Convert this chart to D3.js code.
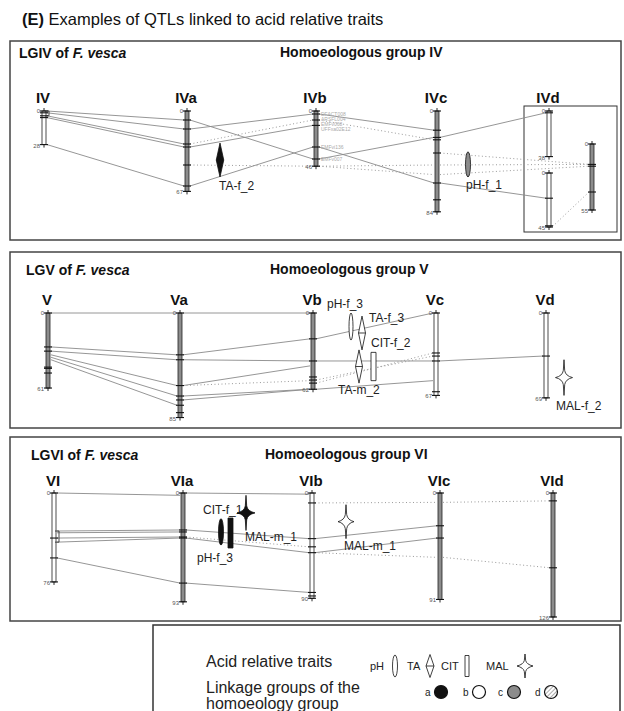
<!DOCTYPE html>
<html>
<head>
<meta charset="utf-8">
<script src="https://cdn.jsdelivr.net/npm/d3@7/dist/d3.min.js"></script>
<style>
  body { margin: 0; background: #fff; }
  svg { display: block; font-family: "Liberation Sans", Arial, sans-serif; }
</style>
</head>
<body>
<svg id="chart" width="624" height="711"></svg>
<script>
// ---- data: linkage groups (length and marker positions in cM) ----
// type = homoeolog fill: a black, b white, c grey, d hatched
const chromsIV = [
  {id: "IV",   label: "IV",  len: 28, type: "b", markers: [1.5, 4, 5.5]},
  {id: "IVa",  label: "IVa", len: 67, type: "c", markers: [7.5, 15, 27.5, 30, 45, 62.5]},
  {id: "IVb",  label: "IVb", len: 46, type: "c", markers: [2.5, 7.5, 12, 30, 40]},
  {id: "IVc",  label: "IVc", len: 84, type: "c", markers: [16, 22, 24, 35, 60, 74]},
  {id: "IVd1", label: "IVd", len: 38, type: "b", markers: [1.5]},
  {id: "IVd2", label: null,  len: 45, type: "b", markers: [21, 44]},
  {id: "IVd3", label: null,  len: 55, type: "c", markers: [17, 18.5, 40]}
];
const chromsV = [
  {id: "V",  label: "V",  len: 61, type: "c", markers: [27.6, 31, 44, 45, 48.8]},
  {id: "Va", label: "Va", len: 85, type: "c", markers: [34, 38, 59, 67.5, 70.7, 75, 81]},
  {id: "Vb", label: "Vb", len: 62, type: "c", markers: [21, 39, 52, 54.5, 57]},
  {id: "Vc", label: "Vc", len: 67, type: "b", markers: [32.5, 35, 39, 64]},
  {id: "Vd", label: "Vd", len: 69, type: "b", markers: [35]}
];
const chromsVI = [
  {id: "VI",  label: "VI",  len: 76,  type: "b", markers: [38.5, 55.5]},
  {id: "VIa", label: "VIa", len: 93,  type: "c", markers: [31.6, 33.3, 37.6, 38.5, 77]},
  {id: "VIb", label: "VIb", len: 90,  type: "b", markers: [8.5, 39, 46, 51, 85, 88]},
  {id: "VIc", label: "VIc", len: 91,  type: "c", markers: [28, 38.5]},
  {id: "VId", label: "VId", len: 126, type: "c", markers: [8, 76]}
];

// homoeologous marker links: [from, cM, to, cM, s = solid | d = dotted]
const linksIV = [
  ["IV", 0, "IVa", 7.5, "s"], ["IV", 1.5, "IVa", 15, "s"], ["IV", 4, "IVa", 27.5, "s"],
  ["IV", 5.5, "IVa", 30, "s"], ["IV", 28, "IVa", 62.5, "s"],
  ["IVa", 7.5, "IVb", 40, "s"], ["IVa", 15, "IVb", 2.5, "s"], ["IVa", 27.5, "IVb", 7.5, "d"],
  ["IVa", 30, "IVb", 12, "s"], ["IVa", 62.5, "IVb", 30, "s"], ["IVa", 45, "IVb", 46, "d"],
  ["IVb", 2.5, "IVc", 16, "s"], ["IVb", 7.5, "IVc", 24, "d"], ["IVb", 30, "IVc", 60, "s"],
  ["IVb", 40, "IVc", 22, "s"], ["IVb", 46, "IVc", 45, "d"], ["IVb", 46, "IVc", 53, "d"],
  ["IVc", 22, "IVd1", 1.5, "s"], ["IVc", 60, "IVd2", 21, "s"],
  ["IVc", 35, "IVd3", 17, "d"], ["IVc", 45, "IVd3", 17, "d"], ["IVc", 53, "IVd3", 18.5, "d"],
  ["IVd3", 40, "IVd2", 45, "d"]
];
const linksV = [
  ["V", 0, "Va", 0, "s"], ["Va", 0, "Vb", 0, "s"],
  ["V", 27.6, "Va", 34, "s"], ["V", 31, "Va", 38, "s"], ["V", 34, "Va", 59, "s"],
  ["V", 36, "Va", 67.5, "s"], ["V", 38, "Va", 75, "s"],
  ["Va", 34, "Vb", 21, "s"], ["Vb", 21, "Vc", 0, "s"],
  ["Va", 38, "Vb", 39, "s"], ["Vb", 39, "Vc", 39, "s"], ["Vc", 39, "Vd", 35, "s"],
  ["Va", 59, "Vb", 43, "s"], ["Va", 59, "Vb", 55, "d"],
  ["Vb", 54.5, "Vc", 35, "d"], ["Vb", 57, "Vc", 32.5, "d"],
  ["Va", 67.5, "Vb", 62, "s"], ["Va", 70.7, "Vb", 62, "s"], ["Vb", 62, "Vc", 55, "s"]
];
const linksVI = [
  ["VI", 0, "VIa", 2, "s"], ["VIa", 0, "VIb", 1, "s"],
  ["VI", 32.5, "VIa", 31.6, "s"], ["VI", 34, "VIa", 33.3, "s"], ["VI", 38.5, "VIa", 37.6, "s"],
  ["VI", 42, "VIa", 38.5, "s"], ["VI", 55.5, "VIa", 77, "s"],
  ["VIa", 31.6, "VIb", 39, "s"], ["VIa", 37.6, "VIb", 46, "d"], ["VIa", 38.5, "VIb", 51, "s"],
  ["VIa", 77, "VIb", 85, "s"],
  ["VIb", 8.5, "VIc", 8, "d"], ["VIc", 8, "VId", 8, "d"],
  ["VIb", 39, "VIc", 28, "s"], ["VIb", 51, "VIc", 38.5, "s"],
  ["VIb", 51, "VIc", 55, "d"], ["VIc", 55, "VId", 76, "d"]
];

// QTLs: interval in cM on the anchoring linkage group
const qtlsIV = [
  {name: "TA-f_2", trait: "TA", type: "a", chrom: "IVa", from: 26.7, to: 55},
  {name: "pH-f_1", trait: "pH", type: "c", chrom: "IVc", from: 34, to: 55}
];
const qtlsV = [
  {name: "pH-f_3",  trait: "pH",  type: "b", chrom: "Vb", from: 0,  to: 22},
  {name: "TA-f_3",  trait: "TA",  type: "b", chrom: "Vb", from: 2.5, to: 30},
  {name: "TA-m_2",  trait: "TA",  type: "b", chrom: "Vb", from: 30, to: 57},
  {name: "CIT-f_2", trait: "CIT", type: "b", chrom: "Vb", from: 32, to: 55},
  {name: "MAL-f_2", trait: "MAL", type: "b", chrom: "Vd", from: 38, to: 67}
];
const qtlsVI = [
  {name: "CIT-f_1", trait: "CIT", type: "a", chrom: "VIa", from: 21.4, to: 47},
  {name: "pH-f_3",  trait: "pH",  type: "a", chrom: "VIa", from: 22, to: 44.5},
  {name: "MAL-m_1", trait: "MAL", type: "a", chrom: "VIa", from: 2, to: 32},
  {name: "MAL-m_1", trait: "MAL", type: "b", chrom: "VIb", from: 10, to: 39}
];

const brackets = [{chrom: "IV", from: 0, to: 4}, {chrom: "VI", from: 32.5, to: 42}];
const ivbMarkerNames = [["DFACT008", 2.5], ["ARSFL004", 6.7], ["EMFv068", 10.8], ["UFFxa02E12", 15],
                        ["EMFvi136", 30], ["EMFv007", 40]];

const traits = ["pH", "TA", "CIT", "MAL"];
const homoeologs = ["a", "b", "c", "d"];

// ---- layout ----
const colPos = {IV: 44, IVa: 187, IVb: 316, IVc: 437, IVd1: 549, IVd2: 549, IVd3: 592,
                V: 48, Va: 180, Vb: 313, Vc: 436, Vd: 546,
                VI: 54, VIa: 183, VIb: 312, VIc: 440, VId: 553};
const chromTop = {IVd2: 62, IVd3: 33};
const chromK = {VId: 0.984};
const qtlPos = {
  "IV:TA-f_2": {x: 220, w: 7.5, lx: 219, ly: 190},
  "IV:pH-f_1": {x: 468, w: 5, lx: 466, ly: 189},
  "V:pH-f_3": {x: 351, w: 4, lx: 327, ly: 308},
  "V:TA-f_3": {x: 362, w: 7, lx: 369, ly: 322},
  "V:TA-m_2": {x: 359, w: 7, lx: 338, ly: 394},
  "V:CIT-f_2": {x: 373.5, w: 5, lx: 371, ly: 347},
  "V:MAL-f_2": {x: 564, w: 17, lx: 556, ly: 410},
  "VI:CIT-f_1": {x: 230.5, w: 5, lx: 203, ly: 514},
  "VI:pH-f_3": {x: 221, w: 5, lx: 197, ly: 562},
  "VI:MAL-m_1:VIa": {x: 246, w: 18, lx: 245, ly: 541},
  "VI:MAL-m_1:VIb": {x: 346, w: 16, lx: 344, ly: 550}
};

const panels = [
  {group: "IV", chroms: chromsIV, links: linksIV, qtls: qtlsIV, box: [10, 41, 611, 199],
   y0: 111, k: 1.2, titleX: 19, titleY: 58, groupX: 280, labelY: 103},
  {group: "V", chroms: chromsV, links: linksV, qtls: qtlsV, box: [10, 252, 611, 176],
   y0: 313, k: 1.23, titleX: 26, titleY: 275, groupX: 270, labelY: 305},
  {group: "VI", chroms: chromsVI, links: linksVI, qtls: qtlsVI, box: [10, 437, 611, 184],
   y0: 493, k: 1.17, titleX: 31, titleY: 460, groupX: 265, labelY: 486}
];

const fills = {a: "#111", b: "#fff", c: "#8c8c8c", d: "url(#hatch)"};
const colX = d3.scaleOrdinal().domain(Object.keys(colPos)).range(Object.values(colPos));

const svg = d3.select("#chart");
const defs = svg.append("defs");
const hatch = defs.append("pattern").attr("id", "hatch").attr("patternUnits", "userSpaceOnUse")
  .attr("width", 3).attr("height", 3).attr("patternTransform", "rotate(45)");
hatch.append("rect").attr("width", 3).attr("height", 3).attr("fill", "#fff");
hatch.append("line").attr("x1", 0).attr("y1", 0).attr("x2", 0).attr("y2", 3)
  .attr("stroke", "#999").attr("stroke-width", 1.6);

function shape(trait, w, h) {
  const a = w / 2, b = h / 2;
  if (trait === "pH") return `M0,${-b}A${a},${b} 0 1,1 0,${b}A${a},${b} 0 1,1 0,${-b}Z`;
  if (trait === "TA") return `M0,${-b}L${a},0L0,${b}L${-a},0Z M${-a},0H${a}`;
  if (trait === "CIT") return `M${-a},${-b}h${w}v${h}h${-w}Z`;
  const s = Math.min(7, b * 0.45);
  return `M0,${-b}L0.7,${-s}Q1.6,-1.6 ${a},0Q1.6,1.6 0.7,${s}L0,${b}L-0.7,${s}` +
         `Q-1.6,1.6 ${-a},0Q-1.6,-1.6 -0.7,${-s}Z`;
}

// title
const title = svg.append("text").attr("x", 22).attr("y", 25).attr("font-size", 16.5).attr("fill", "#111");
title.append("tspan").attr("font-weight", "bold").text("(E)");
title.append("tspan").text(" Examples of QTLs linked to acid relative traits");

panels.forEach(p => {
  const g = svg.append("g");
  const [bx, by, bw, bh] = p.box;
  g.append("rect").attr("x", bx).attr("y", by).attr("width", bw).attr("height", bh)
    .attr("fill", "none").attr("stroke", "#444").attr("stroke-width", 1.5);

  const t = g.append("text").attr("x", p.titleX).attr("y", p.titleY)
    .attr("font-size", 14).attr("font-weight", "bold").attr("fill", "#111");
  t.append("tspan").text(`LG${p.group} of `);
  t.append("tspan").attr("font-style", "italic").text("F. vesca");
  g.append("text").attr("x", p.groupX).attr("y", p.titleY - 1).attr("font-size", 14)
    .attr("font-weight", "bold").attr("fill", "#111").text(`Homoeologous group ${p.group}`);

  // y scale per linkage group
  const yOf = {};
  p.chroms.forEach(c => {
    const top = p.y0 + (chromTop[c.id] || 0);
    const k = chromK[c.id] || p.k;
    yOf[c.id] = d3.scaleLinear().domain([0, c.len]).range([top, top + c.len * k]);
  });

  if (p.group === "IV") {
    g.append("rect").attr("x", 524).attr("y", 106).attr("width", 93).attr("height", 126)
      .attr("fill", "none").attr("stroke", "#333").attr("stroke-width", 1);
  }

  // links
  g.selectAll("line.link").data(p.links).join("line").attr("class", "link")
    .each(function (d) {
      const xa = colX(d[0]), xb = colX(d[2]), dir = xb > xa ? 1 : -1;
      d3.select(this).attr("x1", xa + dir * 3).attr("y1", yOf[d[0]](d[1]))
        .attr("x2", xb - dir * 3).attr("y2", yOf[d[2]](d[3]));
    })
    .attr("stroke", d => d[4] === "s" ? "#8a8a8a" : "#9a9a9a")
    .attr("stroke-width", d => d[4] === "s" ? 0.9 : 1)
    .attr("stroke-dasharray", d => d[4] === "s" ? null : "1,2.5");

  // marker names beside IVb
  if (p.group === "IV") {
    g.selectAll("text.mk").data(ivbMarkerNames).join("text").attr("class", "mk")
      .attr("x", colX("IVb") + 5).attr("y", d => yOf.IVb(d[1]) + 2)
      .attr("font-size", 5).attr("fill", "#aaa").text(d => d[0]);
  }

  // linkage group bars
  const cg = g.selectAll("g.chrom").data(p.chroms).join("g").attr("class", "chrom");
  cg.append("rect")
    .attr("x", d => colX(d.id) - 2).attr("width", 4)
    .attr("y", d => yOf[d.id](0)).attr("height", d => yOf[d.id](d.len) - yOf[d.id](0))
    .attr("fill", d => fills[d.type]).attr("stroke", "#222").attr("stroke-width", 0.8);
  cg.each(function (c) {
    const sel = d3.select(this), x = colX(c.id), y = yOf[c.id];
    const ticks = [0, ...c.markers, c.len];
    sel.selectAll("line.tk").data(ticks).join("line").attr("class", "tk")
      .attr("x1", x - 4).attr("x2", x + 4).attr("y1", d => y(d)).attr("y2", d => y(d))
      .attr("stroke", "#111").attr("stroke-width", 1.1);
    sel.append("path").attr("d", `M${x},${y(0) - 3}V${y(0)}M${x},${y(c.len)}V${y(c.len) + 3}`)
      .attr("stroke", "#111").attr("stroke-width", 0.9);
    sel.append("text").attr("x", x - 4).attr("y", y(0) + 2).attr("text-anchor", "end")
      .attr("font-size", 6).attr("fill", "#555").text("0");
    sel.append("text").attr("x", x - 4).attr("y", y(c.len) + 3).attr("text-anchor", "end")
      .attr("font-size", 6).attr("fill", "#555").text(c.len);
    if (c.label) {
      sel.append("text").attr("x", x - 1).attr("y", p.labelY).attr("text-anchor", "middle")
        .attr("font-size", 15).attr("font-weight", "bold").attr("fill", "#111").text(c.label);
    }
  });

  brackets.filter(b => yOf[b.chrom]).forEach(b => {
    const x = colX(b.chrom), y = yOf[b.chrom];
    g.append("path").attr("d", `M${x + 1},${y(b.from)}H${x + 5}V${y(b.to)}H${x + 1}`)
      .attr("fill", "none").attr("stroke", "#333").attr("stroke-width", 0.9);
  });

  // QTLs
  p.qtls.forEach(q => {
    const pos = qtlPos[`${p.group}:${q.name}`] || qtlPos[`${p.group}:${q.name}:${q.chrom}`];
    const y = yOf[q.chrom], y1 = y(q.from), y2 = y(q.to);
    g.append("path").attr("transform", `translate(${pos.x},${(y1 + y2) / 2})`)
      .attr("d", shape(q.trait, pos.w, y2 - y1))
      .attr("fill", fills[q.type]).attr("stroke", "#111").attr("stroke-width", 0.8);
    g.append("text").attr("x", pos.lx).attr("y", pos.ly).attr("font-size", 12)
      .attr("fill", "#222").text(q.name);
  });
});

// legend
const lg = svg.append("g");
lg.append("rect").attr("x", 153).attr("y", 625).attr("width", 467).attr("height", 95)
  .attr("fill", "#fff").attr("stroke", "#333").attr("stroke-width", 1.5);
lg.append("text").attr("x", 206).attr("y", 667).attr("font-size", 16).attr("fill", "#222").text("Acid relative traits");
lg.append("text").attr("x", 206).attr("y", 693).attr("font-size", 16).attr("fill", "#222").text("Linkage groups of the");
lg.append("text").attr("x", 206).attr("y", 709).attr("font-size", 16).attr("fill", "#222").text("homoeology group");

const traitX = d3.scaleOrdinal().domain(traits).range([370, 407, 441, 486]);
const traitShape = {pH: [5, 22, 25], TA: [8, 23, 23], CIT: [4, 21, 26], MAL: [16, 24, 39]};
traits.forEach(t => {
  const x = traitX(t), [w, h, dx] = traitShape[t];
  lg.append("text").attr("x", x).attr("y", 670).attr("font-size", 11).attr("fill", "#222").text(t);
  lg.append("path").attr("transform", `translate(${x + dx},666)`).attr("d", shape(t, w, h))
    .attr("fill", "#fff").attr("stroke", "#111").attr("stroke-width", 0.8);
});
const homX = d3.scaleOrdinal().domain(homoeologs).range([425, 463, 498, 535]);
homoeologs.forEach(h => {
  const x = homX(h);
  lg.append("text").attr("x", x).attr("y", 696).attr("font-size", 10).attr("fill", "#222").text(h);
  lg.append("circle").attr("cx", x + 16).attr("cy", 692).attr("r", 6.5)
    .attr("fill", fills[h]).attr("stroke", "#111").attr("stroke-width", 1.2);
});
</script>
</body>
</html>
